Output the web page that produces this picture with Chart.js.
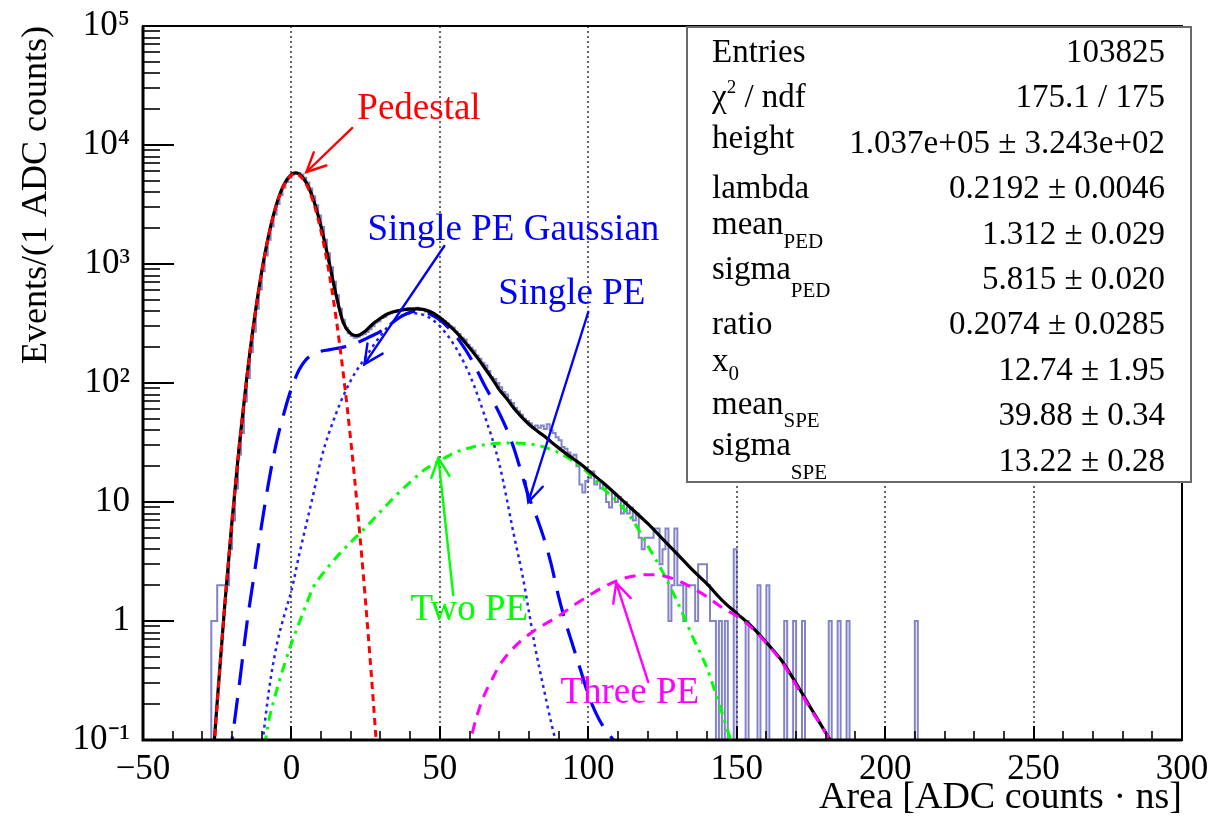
<!DOCTYPE html>
<html>
<head>
<meta charset="utf-8">
<script src="https://cdn.jsdelivr.net/npm/chart.js@4.4.1/dist/chart.umd.min.js"></script>
<style>
html,body{margin:0;padding:0;background:#fff;}
#wrap{width:1210px;height:821px;position:relative;}
</style>
</head>
<body>
<div id="wrap"><canvas id="c" width="1210" height="821"></canvas></div>
<script>
// ---------------- DATA ----------------
// histogram: 1 ADC-count bins, first bin lower edge, counts
const histFirstEdge = -27;
const histCounts = [
  1,1,2,2,2,2,4,7,13,25,
  38,70,110,182,270,420,612,870,1180,1600,
  2070,2600,3190,3790,4370,4890,5340,5650,5800,5820,
  5640,5300,4840,4300,3710,3120,2560,2050,1600,1230,
  940,710,545,420,340,290,262,248,240,243,
  252,258,268,283,300,322,330,352,360,378,
  385,398,402,410,418,412,425,418,422,428,
  410,412,398,392,385,372,360,345,332,318,
  300,292,270,258,240,232,210,198,188,170,
  160,148,140,126,112,108,100,92,84,80,
  72,68,62,58,54,50,48,46,42,44,
  42,44,41,45,40,38,35,33,29,28,
  26,24,25,20,14,12,15,16,18,14,
  15,13,14,10,9,12,10,11,8,10,
  8,9,7,8,5,4,5,5,5,6,
  6,3,4,6,1,2,6,2,2,1,
  2,2,2,1,3,3,3,2,1,1,
  0,1,0,1,0,0,4,0,0,0,
  1,0,0,0,2,0,0,2,0,0,
  0,0,0,1,0,0,1,0,0,1,
  0,0,0,0,0,0,0,0,1,0,
  0,1,0,0,1,0,0,0,0,0,
  0,0,0,0,0,0,0,0,0,0,
  0,0,0,0,0,0,0,1,0,0
];

// total fit (black)
const totalX = [-27.5,-25,-22.5,-20,-17.5,-15,-12.5,-10,-7.5,-5,-2.5,0,1.3,2.5,5,7.5,10,12.5,15,17.5,20,22,25,27.5,30,32.5,35,37.5,40,42.5,45,47.5,50,52.5,55,57.5,60,62.5,65,67.5,70,72.5,75,77.5,80,82.5,85,87.5,90,92.5,95,97.5,100,105,110,115,120,125,130,135,140,145,150,155,160,165,170,175,180,182];
const totalY = [0.03,0.21,1.33,7.0,31,113,343,868,1830,3200,4670,5660,5820,5730,4830,3420,2050,1090,555,320,260,250,275,315,350,382,400,412,418,420,412,390,355,315,275,235,198,165,135,110,88,74,61,52,45,40,36,32,28.5,25.5,23,20.8,18.4,14.5,11.2,8.6,6.6,4.9,3.65,2.7,2.05,1.5,1.16,0.9,0.66,0.47,0.3,0.185,0.115,0.095];

// pedestal (red)
const pedX = [-27.5,-25,-22.5,-20,-17.5,-15,-12.5,-10,-7.5,-5,-2.5,0,1.3,2.5,5,7.5,10,12.5,15,17.5,20,22.5,25,27.5,30];
const pedY = [0.027,0.205,1.31,6.9,30.5,112,341,862,1814,3171,4610,5571,5714,5596,4673,3244,1870,899,358,118,32.6,7.5,1.42,0.225,0.03];

// single PE (blue long dash)
const speX = [-21,-20,-17.5,-15,-12.5,-10,-7.5,-5,-2.5,0,2.5,5,7.5,10,12.5,15,17.5,20,22.5,25,27.5,30,32.5,35,37.5,40,42.5,45,47.5,50,52.5,55,57.5,60,62.5,65,67.5,70,72.5,75,77.5,80,82.5,85,87.5,90,92.5,95,97.5,100,102.5,105,108.5,110];
const speY = [0.065,0.1,0.3,0.95,2.5,6.5,15.5,32,56,90,128,158,175,185,190,195,200,208,220,235,252,272,300,335,368,392,400,392,370,338,298,255,210,168,128,96,74,56,41,28,17.5,11,7.6,5,3.0,1.6,0.95,0.6,0.38,0.24,0.17,0.13,0.1,0.09];

// single PE gaussian (blue dotted)
const speGausX = [-10,-7.5,-5,-2.5,0,2.5,5,7.5,10,15,20,25,30,35,40,45,50,55,60,65,70,75,78,80,82,85,87.5,89,91];
const speGausY = [0.085,0.27,0.62,1.1,1.8,3.5,6.5,12,23,55,105,165,250,340,385,370,300,205,118,54,21,5.2,2.3,1.2,0.62,0.27,0.14,0.1,0.075];

// two PE (green dash-dot)
const twoX = [-9,-7.5,-5,-2.5,0,2.5,5,7.5,10,15,20,25,30,35,40,45,50,55,60,65,70,75,80,85,90,95,100,105,110,115,120,125,130,135,140,145,148,150];
const twoY = [0.09,0.15,0.26,0.42,0.65,0.95,1.38,1.95,2.4,3.4,4.6,6.1,8.3,11.2,14.7,18.8,22.3,26,28.5,30.3,31.2,31.3,30.8,29,26,22,17.5,13,10,7.0,4.3,2.6,1.45,0.75,0.4,0.17,0.1,0.075];

// three PE (magenta dashed)
const threeX = [59,60,62.5,65,67.5,70,75,80,85,90,95,100,105,110,115,120,125,130,135,140,145,150,155,160,165,170,175,180,182];
const threeY = [0.08,0.095,0.16,0.24,0.32,0.42,0.6,0.77,0.93,1.1,1.35,1.62,1.92,2.2,2.38,2.45,2.4,2.2,1.9,1.6,1.3,1.1,0.88,0.65,0.46,0.29,0.18,0.115,0.095];

// axes
const xTickValues = [-50,0,50,100,150,200,250,300];
const xTickLabels = ['\u221250','0','50','100','150','200','250','300'];
const yTickValues = [0.1,1,10,100,1000,10000,100000];
const yTickLabels = ['10\u207B\u00B9','1','10','10\u00B2','10\u00B3','10\u2074','10\u2075'];
const xTitle = 'Area [ADC counts \u00B7 ns]';
const yTitle = 'Events/(1 ADC counts)';

// stats box
const statLabels = ['Entries','\u03C7^{2} / ndf','height','lambda','mean_{PED}','sigma_{PED}','ratio','x_{0}','mean_{SPE}','sigma_{SPE}'];
const statValues = ['103825','175.1 / 175','1.037e+05 \u00B1 3.243e+02','0.2192 \u00B1 0.0046','1.312 \u00B1 0.029','5.815 \u00B1 0.020','0.2074 \u00B1 0.0285','12.74 \u00B1 1.95','39.88 \u00B1 0.34','13.22 \u00B1 0.28'];

// annotations (data coordinates)
const annText = ['Pedestal','Single PE Gaussian','Single PE','Two PE','Three PE'];
const annColor = ['#ff0000','#0000ff','#0000ff','#00ff00','#ff00ff'];
const annTextAt = [[22.2,16540],[25.6,1591],[69.7,461],[40.1,1.02],[90.6,0.205]];
const annArrowFrom = [[20.5,13900],[51.5,1416],[100,395],[54.5,1.65],[120.2,0.307]];
const annArrowTo = [[5.05,5930],[24.6,144],[79.8,10],[49.5,23.4],[109.4,2.09]];

// ---------------- LAYOUT / STYLE ----------------
const FONT = "'Liberation Serif','Times New Roman',serif";
const STAT = {l:687, t:27, r:1191, b:482, labelX:712, valueX:1165, firstBase:62, step:45.4,
  labelShift:[0,0,-5,0,-10,-10,0,-9,-11,-16], subShift:[0,0,0,0,14,18,0,9,13,24]};

const pts = (xs, ys) => xs.map((x, i) => ({x: x, y: ys[i]}));
const histPoints = (() => {
  const floor = yTickValues[0];
  const p = [{x: xTickValues[0], y: floor}];
  histCounts.forEach((c, i) => p.push({x: histFirstEdge + i, y: c > 0 ? c : floor}));
  p.push({x: histFirstEdge + histCounts.length, y: floor});
  p.push({x: xTickValues[xTickValues.length - 1], y: floor});
  return p;
})();

function drawArrow(ctx, x1, y1, x2, y2, color) {
  ctx.save();
  ctx.strokeStyle = color; ctx.lineWidth = 2.4; ctx.setLineDash([]); ctx.lineCap = 'round';
  ctx.beginPath(); ctx.moveTo(x1, y1); ctx.lineTo(x2, y2); ctx.stroke();
  const ang = Math.atan2(y1 - y2, x1 - x2), L = 21, h = 0.45;
  ctx.beginPath();
  ctx.moveTo(x2 + L * Math.cos(ang + h), y2 + L * Math.sin(ang + h));
  ctx.lineTo(x2, y2);
  ctx.lineTo(x2 + L * Math.cos(ang - h), y2 + L * Math.sin(ang - h));
  ctx.stroke();
  ctx.restore();
}

function drawRich(ctx, str, x, y, size, subSize, subDy) {
  // handles _{..} and ^{..}
  const re = /([_^])\{([^}]*)\}/g;
  let last = 0, m, cx = x;
  const put = (t, sz, dy) => { ctx.font = sz + 'px ' + FONT; ctx.fillText(t, cx, y + dy); cx += ctx.measureText(t).width; };
  while ((m = re.exec(str)) !== null) {
    if (m.index > last) put(str.slice(last, m.index), size, 0);
    if (m[1] === '_') put(m[2], subSize, subDy); else put(m[2], subSize - 2, -14);
    last = re.lastIndex;
  }
  if (last < str.length) put(str.slice(last), size, 0);
}

const rootPlugin = {
  id: 'rootStyle',
  beforeDatasetsDraw(chart) {
    const {ctx, chartArea: a} = chart; const xs = chart.scales.x;
    ctx.save();
    ctx.strokeStyle = '#555'; ctx.lineWidth = 1.8; ctx.setLineDash([2, 3]);
    xTickValues.forEach(v => {
      if (v > xs.min && v < xs.max) {
        const px = Math.round(xs.getPixelForValue(v));
        ctx.beginPath(); ctx.moveTo(px, a.top); ctx.lineTo(px, a.bottom); ctx.stroke();
      }
    });
    ctx.restore();
  },
  afterDatasetsDraw(chart) {
    const {ctx, chartArea: a} = chart; const xs = chart.scales.x, ys = chart.scales.y;
    ctx.save();
    ctx.setLineDash([]); ctx.strokeStyle = '#000';
    // x ticks (inside, up)
    xs.ticks.forEach(t => {
      const major = xTickValues.indexOf(t.value) >= 0;
      const px = Math.round(xs.getPixelForValue(t.value));
      ctx.lineWidth = major ? 2 : 1.6;
      ctx.beginPath(); ctx.moveTo(px, a.bottom); ctx.lineTo(px, a.bottom - (major ? 14 : 9)); ctx.stroke();
    });
    // y ticks (inside, right)
    ys.ticks.forEach(t => {
      const major = yTickValues.some(v => Math.abs(Math.log10(v) - Math.log10(t.value)) < 1e-6);
      const py = Math.round(ys.getPixelForValue(t.value));
      ctx.lineWidth = major ? 2 : 1.6;
      ctx.beginPath(); ctx.moveTo(a.left, py); ctx.lineTo(a.left + (major ? 31 : 17), py); ctx.stroke();
    });
    // frame
    ctx.lineWidth = 2;
    ctx.strokeRect(a.left, a.top, a.right - a.left, a.bottom - a.top);
    ctx.lineWidth = 3;
    ctx.beginPath(); ctx.moveTo(a.left, a.top); ctx.lineTo(a.left, a.bottom); ctx.lineTo(a.right, a.bottom); ctx.stroke();

    // annotations
    ctx.textAlign = 'left'; ctx.textBaseline = 'alphabetic';
    annText.forEach((txt, i) => {
      ctx.font = '37px ' + FONT; ctx.fillStyle = annColor[i];
      ctx.fillText(txt, xs.getPixelForValue(annTextAt[i][0]), ys.getPixelForValue(annTextAt[i][1]));
      drawArrow(ctx, xs.getPixelForValue(annArrowFrom[i][0]), ys.getPixelForValue(annArrowFrom[i][1]),
                xs.getPixelForValue(annArrowTo[i][0]), ys.getPixelForValue(annArrowTo[i][1]), annColor[i]);
    });

    // stats box
    ctx.fillStyle = '#fff';
    ctx.fillRect(STAT.l, STAT.t, STAT.r - STAT.l, STAT.b - STAT.t);
    ctx.strokeStyle = '#6a6a6a'; ctx.lineWidth = 2;
    ctx.strokeRect(STAT.l, STAT.t, STAT.r - STAT.l, STAT.b - STAT.t);
    ctx.fillStyle = '#000';
    statLabels.forEach((lab, i) => {
      const base = STAT.firstBase + STAT.step * i;
      ctx.textAlign = 'left';
      drawRich(ctx, lab, STAT.labelX, base + STAT.labelShift[i], 33, 21, STAT.subShift[i]);
      ctx.font = '33px ' + FONT; ctx.textAlign = 'right';
      ctx.fillText(statValues[i], STAT.valueX, base);
    });
    ctx.restore();
  }
};

const lineBase = {pointRadius: 0, pointHoverRadius: 0, fill: false, cubicInterpolationMode: 'monotone', borderCapStyle: 'butt', borderJoinStyle: 'round'};

new Chart(document.getElementById('c'), {
  type: 'line',
  data: {
    datasets: [
      Object.assign({label: 'Pedestal', data: pts(pedX, pedY), borderColor: '#ff0000', borderWidth: 3, borderDash: [7, 5]}, lineBase),
      Object.assign({label: 'Three PE', data: pts(threeX, threeY), borderColor: '#ff00ff', borderWidth: 3, borderDash: [11, 8]}, lineBase),
      Object.assign({label: 'Total fit', data: pts(totalX, totalY), borderColor: '#000000', borderWidth: 3.2}, lineBase),
      Object.assign({label: 'Two PE', data: pts(twoX, twoY), borderColor: '#00ff00', borderWidth: 3, borderDash: [10, 6, 3, 6]}, lineBase),
      Object.assign({label: 'Single PE', data: pts(speX, speY), borderColor: '#0000ff', borderWidth: 3.2, borderDash: [26, 13]}, lineBase),
      Object.assign({label: 'Single PE Gaussian', data: pts(speGausX, speGausY), borderColor: '#2020ff', borderWidth: 2.5, borderDash: [3, 4]}, lineBase),
      {label: 'Data', data: histPoints, borderColor: 'rgba(55,55,165,0.62)', borderWidth: 2, stepped: 'before', tension: 0, pointRadius: 0, fill: false}
    ]
  },
  options: {
    responsive: false, animation: false, devicePixelRatio: 1,
    layout: {padding: {top: 26, right: 28, left: 0, bottom: 0}},
    plugins: {legend: {display: false}, tooltip: {enabled: false}},
    events: [],
    scales: {
      x: {
        type: 'linear', position: 'bottom', min: xTickValues[0], max: xTickValues[xTickValues.length - 1],
        grid: {display: false, drawTicks: false}, border: {display: false},
        afterBuildTicks: s => {
          const t = [];
          for (let v = xTickValues[0]; v <= xTickValues[xTickValues.length - 1]; v += 10) t.push({value: v});
          s.ticks = t;
        },
        ticks: {autoSkip: false, maxRotation: 0, minRotation: 0, padding: 9, color: '#000',
          font: {size: 35, family: FONT},
          callback: v => { const i = xTickValues.indexOf(v); return i >= 0 ? xTickLabels[i] : ''; }},
        title: {display: true, text: xTitle, align: 'end', color: '#000', font: {size: 38, family: FONT}, padding: {top: 0, bottom: 0}},
        afterFit: s => { s.height = 81; s.paddingLeft = 0; s.paddingRight = 0; }
      },
      y: {
        type: 'logarithmic', position: 'left', min: yTickValues[0], max: yTickValues[yTickValues.length - 1],
        grid: {display: false, drawTicks: false}, border: {display: false},
        afterBuildTicks: s => {
          const t = [];
          for (let d = yTickValues[0]; d < yTickValues[yTickValues.length - 1] * 0.999; d *= 10) {
            for (let m = 1; m <= 9; m++) t.push({value: Number((m * d).toPrecision(3))});
          }
          t.push({value: yTickValues[yTickValues.length - 1]});
          s.ticks = t;
        },
        ticks: {autoSkip: false, padding: 13, color: '#000', font: {size: 35, family: FONT},
          callback: v => {
            const i = yTickValues.findIndex(u => Math.abs(Math.log10(u) - Math.log10(v)) < 1e-6);
            return i >= 0 ? yTickLabels[i] : '';
          }},
        title: {display: true, text: yTitle, align: 'end', color: '#000', font: {size: 36, family: FONT}, padding: {top: 15, bottom: 0}},
        afterFit: s => { s.width = 143; s.paddingTop = 0; s.paddingBottom = 0; }
      }
    }
  },
  plugins: [rootPlugin]
});
</script>
</body>
</html>
